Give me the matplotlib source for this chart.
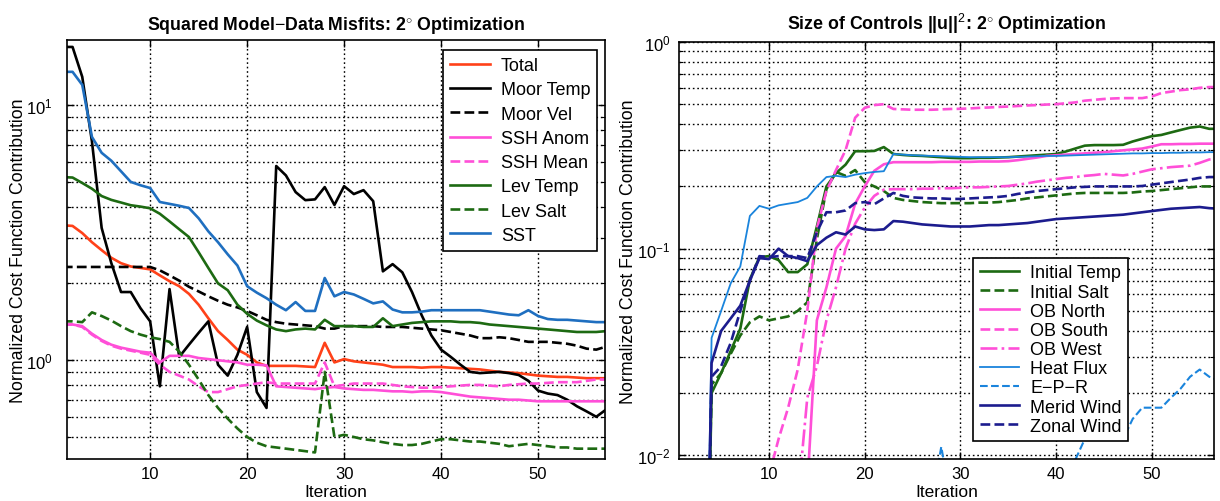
import numpy as np
import matplotlib
matplotlib.use("Agg")
import matplotlib.pyplot as plt
from matplotlib.ticker import LogLocator, NullFormatter

plt.rcParams["font.family"] = ["Liberation Sans", "DejaVu Sans"]
plt.rcParams["mathtext.fontset"] = "custom"
plt.rcParams["mathtext.rm"] = "Liberation Sans"
plt.rcParams["mathtext.bf"] = "Liberation Sans:bold"

# ---- data: iterations 1..57 ----
iters = list(range(1, 58))

# left panel: squared model-data misfits
total = [3.38, 3.36, 3.15, 2.9, 2.7, 2.52, 2.4, 2.33, 2.3, 2.27, 2.15, 2.04, 1.95, 1.82, 1.65,
         1.46, 1.3, 1.2, 1.10, 1.05, 0.98, 0.95, 0.95, 0.95, 0.95, 0.945, 0.94, 1.17, 0.98, 1.01,
         0.99, 0.98, 0.97, 0.96, 0.94, 0.94, 0.94, 0.935, 0.94, 0.94, 0.935, 0.93, 0.925, 0.92,
         0.91, 0.90, 0.895, 0.89, 0.88, 0.87, 0.865, 0.86, 0.86, 0.855, 0.85, 0.85, 0.85]
moor_temp = [16.9, 16.9, 12.9, 7.2, 3.3, 2.4, 1.85, 1.85, 1.6, 1.42, 0.79, 1.9, 1.03, 1.15, 1.28,
             1.42, 0.96, 0.87, 1.05, 1.35, 0.75, 0.65, 5.77, 5.3, 4.56, 4.24, 4.27, 4.77, 4.06, 4.81,
             4.48, 4.64, 4.2, 2.23, 2.38, 2.21, 1.85, 1.5, 1.25, 1.10, 1.03, 0.96, 0.90, 0.89, 0.895,
             0.90, 0.89, 0.875, 0.83, 0.76, 0.74, 0.73, 0.70, 0.66, 0.63, 0.60, 0.64]
moor_vel = [2.32] * 10 + [2.25, 2.15, 2.05, 1.94, 1.86, 1.78, 1.71, 1.65, 1.61, 1.56, 1.50, 1.44,
            1.41, 1.39, 1.38, 1.37, 1.36, 1.33, 1.33, 1.36, 1.36, 1.36, 1.36, 1.35, 1.35, 1.35,
            1.34, 1.33, 1.32, 1.31, 1.29, 1.27, 1.25, 1.22, 1.22, 1.23, 1.22, 1.2, 1.18, 1.18, 1.18,
            1.17, 1.16, 1.14, 1.11, 1.10, 1.13]
ssh_anom = [1.38, 1.38, 1.36, 1.27, 1.2, 1.15, 1.12, 1.1, 1.08, 1.07, 0.98, 1.04, 1.04, 1.04, 1.02,
            1.01, 1.0, 0.99, 0.98, 0.96, 0.96, 0.955, 0.79, 0.785, 0.78, 0.775, 0.77, 0.78, 0.785,
            0.775, 0.77, 0.765, 0.765, 0.76, 0.755, 0.755, 0.75, 0.755, 0.755, 0.75, 0.74, 0.73,
            0.72, 0.715, 0.71, 0.705, 0.70, 0.70, 0.695, 0.69, 0.69, 0.69, 0.69, 0.69, 0.69, 0.69, 0.69]
ssh_mean = [1.38, 1.38, 1.35, 1.26, 1.19, 1.14, 1.11, 1.09, 1.07, 1.05, 0.96, 0.90, 0.87, 0.84,
            0.79, 0.75, 0.75, 0.77, 0.79, 0.80, 0.81, 0.82, 0.81, 0.81, 0.81, 0.81, 0.81, 0.98, 0.79,
            0.80, 0.81, 0.81, 0.81, 0.81, 0.80, 0.79, 0.785, 0.78, 0.78, 0.785, 0.79, 0.795, 0.80,
            0.80, 0.795, 0.79, 0.80, 0.805, 0.81, 0.81, 0.815, 0.82, 0.82, 0.82, 0.83, 0.84, 0.84]
lev_temp = [5.22, 5.2, 4.95, 4.7, 4.4, 4.25, 4.15, 4.05, 4.0, 3.94, 3.75, 3.5, 3.26, 3.04, 2.65,
            2.3, 2.0, 1.88, 1.65, 1.52, 1.43, 1.37, 1.32, 1.30, 1.32, 1.33, 1.32, 1.44, 1.36, 1.36,
            1.36, 1.35, 1.35, 1.46, 1.36, 1.38, 1.40, 1.41, 1.42, 1.42, 1.42, 1.41, 1.41, 1.40, 1.38,
            1.37, 1.36, 1.35, 1.34, 1.33, 1.32, 1.31, 1.30, 1.29, 1.29, 1.29, 1.30]
lev_salt = [1.42, 1.42, 1.41, 1.54, 1.49, 1.43, 1.36, 1.30, 1.26, 1.23, 1.21, 1.18, 1.08, 0.96,
            0.84, 0.73, 0.65, 0.59, 0.54, 0.50, 0.475, 0.46, 0.455, 0.45, 0.445, 0.44, 0.435, 0.9,
            0.50, 0.51, 0.50, 0.49, 0.485, 0.477, 0.47, 0.465, 0.465, 0.47, 0.48, 0.49, 0.49, 0.485,
            0.48, 0.48, 0.475, 0.47, 0.46, 0.465, 0.47, 0.465, 0.46, 0.455, 0.455, 0.45, 0.45, 0.45, 0.45]
sst = [13.5, 13.5, 12.0, 7.5, 6.5, 6.05, 5.5, 5.0, 4.85, 4.73, 4.17, 4.1, 4.03, 3.95, 3.6, 3.2,
       2.9, 2.6, 2.35, 1.95, 1.84, 1.75, 1.65, 1.57, 1.69, 1.56, 1.56, 2.1, 1.78, 1.85, 1.81, 1.74,
       1.67, 1.70, 1.58, 1.54, 1.54, 1.55, 1.57, 1.57, 1.57, 1.57, 1.57, 1.57, 1.55, 1.53, 1.51,
       1.50, 1.57, 1.49, 1.45, 1.44, 1.44, 1.43, 1.42, 1.41, 1.41]

# right panel: size of controls
off = [1e-4] * 3
init_temp = off + [0.02, 0.025, 0.032, 0.041, 0.071, 0.091, 0.092, 0.088, 0.077, 0.077, 0.084,
                   0.128, 0.2, 0.232, 0.255, 0.296, 0.296, 0.297, 0.31, 0.287, 0.284, 0.282, 0.281,
                   0.279, 0.277, 0.275, 0.274, 0.274, 0.275, 0.275, 0.276, 0.277, 0.279, 0.281,
                   0.283, 0.285, 0.287, 0.295, 0.305, 0.315, 0.317, 0.317, 0.317, 0.318, 0.33, 0.34,
                   0.35, 0.355, 0.365, 0.375, 0.385, 0.39, 0.38, 0.38]
init_salt = off + [0.022, 0.025, 0.031, 0.038, 0.044, 0.047, 0.045, 0.046, 0.047, 0.05, 0.055,
                   0.111, 0.194, 0.235, 0.225, 0.24, 0.21, 0.2, 0.19, 0.176, 0.172, 0.17, 0.168,
                   0.167, 0.166, 0.166, 0.166, 0.166, 0.167, 0.167, 0.168, 0.17, 0.172, 0.175,
                   0.177, 0.179, 0.181, 0.183, 0.185, 0.186, 0.186, 0.186, 0.186, 0.186, 0.187,
                   0.189, 0.19, 0.192, 0.194, 0.196, 0.198, 0.2, 0.2, 0.2]
ob_north = [1e-4] * 13 + [0.007, 0.045, 0.065, 0.1, 0.115, 0.165, 0.2, 0.238, 0.256, 0.262,
                          0.262, 0.262, 0.262, 0.262, 0.263, 0.263, 0.263, 0.263, 0.264, 0.264,
                          0.264, 0.265, 0.268, 0.272, 0.276, 0.281, 0.283, 0.285, 0.287, 0.289,
                          0.291, 0.293, 0.296, 0.299, 0.302, 0.305, 0.312, 0.32, 0.32, 0.321,
                          0.321, 0.322, 0.322, 0.322]
ob_south = [1e-4] * 9 + [0.008, 0.012, 0.017, 0.026, 0.05, 0.125, 0.19, 0.24, 0.3, 0.43, 0.48,
                         0.495, 0.5, 0.474, 0.472, 0.47, 0.47, 0.47, 0.472, 0.474, 0.475, 0.477,
                         0.48, 0.482, 0.485, 0.487, 0.49, 0.493, 0.495, 0.498, 0.5, 0.505, 0.51,
                         0.52, 0.525, 0.53, 0.533, 0.535, 0.535, 0.535, 0.545, 0.566, 0.575, 0.585,
                         0.59, 0.6, 0.605, 0.605]
ob_west = [1e-4] * 12 + [0.006, 0.019, 0.027, 0.045, 0.065, 0.1, 0.132, 0.158, 0.18, 0.193,
                         0.194, 0.194, 0.194, 0.195, 0.195, 0.196, 0.196, 0.197, 0.198, 0.198,
                         0.199, 0.2, 0.201, 0.204, 0.207, 0.211, 0.214, 0.217, 0.22, 0.222, 0.225,
                         0.227, 0.23, 0.228, 0.226, 0.23, 0.236, 0.242, 0.245, 0.248, 0.25, 0.252,
                         0.26, 0.27, 0.272]
heat_flux = off + [0.037, 0.05, 0.068, 0.082, 0.144, 0.161, 0.156, 0.162, 0.165, 0.168, 0.176,
                   0.2, 0.222, 0.225, 0.222, 0.228, 0.232, 0.235, 0.237, 0.287, 0.285, 0.283,
                   0.282, 0.281, 0.28, 0.279, 0.278, 0.277, 0.277, 0.277, 0.277, 0.277, 0.278,
                   0.279, 0.28, 0.281, 0.281, 0.282, 0.283, 0.284, 0.285, 0.286, 0.287, 0.288,
                   0.289, 0.289, 0.29, 0.29, 0.291, 0.291, 0.292, 0.292, 0.293, 0.293]
e_p_r = [0.003] * 20 + [0.007, 0.0095, 0.007, 0.006, 0.006, 0.006, 0.006, 0.011, 0.006, 0.006,
                        0.006, 0.006, 0.006, 0.006, 0.006, 0.006, 0.006, 0.006, 0.006, 0.006,
                        0.006, 0.0095, 0.012, 0.012, 0.012, 0.012, 0.012, 0.015, 0.017, 0.017,
                        0.017, 0.019, 0.021, 0.024, 0.026, 0.024, 0.023]
merid_wind = off + [0.028, 0.04, 0.046, 0.053, 0.07, 0.09, 0.089, 0.1, 0.092, 0.09, 0.087, 0.104,
                    0.113, 0.12, 0.117, 0.128, 0.124, 0.123, 0.124, 0.136, 0.135, 0.133, 0.131,
                    0.13, 0.129, 0.128, 0.128, 0.128, 0.129, 0.13, 0.13, 0.131, 0.132, 0.133,
                    0.135, 0.137, 0.139, 0.14, 0.141, 0.142, 0.143, 0.144, 0.145, 0.146, 0.148,
                    0.15, 0.152, 0.154, 0.156, 0.157, 0.158, 0.159, 0.157, 0.156]
zonal_wind = off + [0.024, 0.027, 0.035, 0.05, 0.07, 0.092, 0.091, 0.092, 0.092, 0.092, 0.09,
                    0.12, 0.15, 0.15, 0.153, 0.166, 0.168, 0.164, 0.175, 0.186, 0.18, 0.177,
                    0.176, 0.175, 0.175, 0.174, 0.174, 0.175, 0.176, 0.177, 0.178, 0.18, 0.184,
                    0.187, 0.19, 0.192, 0.194, 0.196, 0.198, 0.199, 0.2, 0.2, 0.2, 0.2, 0.2, 0.201,
                    0.204, 0.207, 0.21, 0.213, 0.216, 0.22, 0.222, 0.222]

ORANGE = "#ff4119"
GREEN = "#1d6a12"
MAGENTA = "#ff4fd8"
BLUE = "#1f6fc0"
LBLUE = "#1a84dc"
NAVY = "#1c1c8e"

left_series = [
    ("Total", total, ORANGE, "-"),
    ("Moor Temp", moor_temp, "black", "-"),
    ("Moor Vel", moor_vel, "black", "--"),
    ("SSH Anom", ssh_anom, MAGENTA, "-"),
    ("SSH Mean", ssh_mean, MAGENTA, "--"),
    ("Lev Temp", lev_temp, GREEN, "-"),
    ("Lev Salt", lev_salt, GREEN, "--"),
    ("SST", sst, BLUE, "-"),
]
right_series = [
    ("Initial Temp", init_temp, GREEN, "-", 1.9),
    ("Initial Salt", init_salt, GREEN, "--", 1.9),
    ("OB North", ob_north, MAGENTA, "-", 1.9),
    ("OB South", ob_south, MAGENTA, "--", 1.9),
    ("OB West", ob_west, MAGENTA, "-.", 1.9),
    ("Heat Flux", heat_flux, LBLUE, "-", 1.3),
    ("E\u2212P\u2212R", e_p_r, LBLUE, "--", 1.5),
    ("Merid Wind", merid_wind, NAVY, "-", 1.9),
    ("Zonal Wind", zonal_wind, NAVY, "--", 1.9),
]


def style_axes(ax, ylim, xlim, ypad, ylabel_x):
    ax.set_yscale("log")
    ax.set_xlim(*xlim)
    ax.set_ylim(*ylim)
    ax.set_xticks([10, 20, 30, 40, 50])
    ax.yaxis.set_major_locator(LogLocator(base=10))
    ax.yaxis.set_minor_locator(LogLocator(base=10, subs=np.arange(2, 10)))
    ax.yaxis.set_minor_formatter(NullFormatter())
    ax.tick_params(which="both", direction="in", top=True, right=True, labelsize=12)
    ax.tick_params(which="major", length=5, width=1)
    ax.tick_params(which="minor", length=3, width=0.8)
    ax.tick_params(axis="y", pad=ypad)
    ax.tick_params(axis="x", pad=5)
    grid_kw = dict(color="black", linestyle=(0, (1.2, 2.0)), linewidth=1.0)
    ax.grid(True, which="major", axis="both", **grid_kw)
    ax.grid(True, which="minor", axis="y", **grid_kw)
    for s in ax.spines.values():
        s.set_linewidth(1.2)
    ax.set_xlabel("Iteration", fontsize=12.5, labelpad=2)
    ax.set_ylabel("Normalized Cost Function Contribution", fontsize=12.8)
    ax.yaxis.set_label_coords(ylabel_x, 0.5)


fig = plt.figure(figsize=(12.2, 5.02), dpi=100)
axL = fig.add_axes([0.0547, 0.0837, 0.4412, 0.8347])
axR = fig.add_axes([0.5566, 0.0837, 0.4385, 0.8307])

for name, vals, col, ls in left_series:
    axL.plot(iters, vals, color=col, linestyle=ls, linewidth=1.9, label=name)
style_axes(axL, (0.41, 18.0), (1.4, 56.9), 10, -0.074)
axL.set_title(r"Squared Model$-$Data Misfits: 2$^{\circ}$ Optimization",
              fontsize=12.8, fontweight="bold", pad=8)
legL = axL.legend(loc="upper right", bbox_to_anchor=(0.986, 0.976), borderaxespad=0,
                  fontsize=13, fancybox=False, framealpha=1, edgecolor="black",
                  handlelength=2.2, labelspacing=0.4, borderpad=0.4, handletextpad=0.6)
legL.get_frame().set_linewidth(1.2)

for name, vals, col, ls, lw in right_series:
    axR.plot(iters, vals, color=col, linestyle=ls, linewidth=lw, label=name)
style_axes(axR, (0.0096, 1.0), (0.6, 56.5), 6, -0.079)
axR.set_title(r"Size of Controls ||u||$^2$: 2$^{\circ}$ Optimization",
              fontsize=12.8, fontweight="bold", pad=9)
legR = axR.legend(loc="lower left", bbox_to_anchor=(0.55, 0.043), borderaxespad=0,
                  fontsize=13, fancybox=False, framealpha=1, edgecolor="black",
                  handlelength=2.2, labelspacing=0.12, borderpad=0.35, handletextpad=0.6)
legR.get_frame().set_linewidth(1.2)

fig.savefig("out.png", dpi=100)
